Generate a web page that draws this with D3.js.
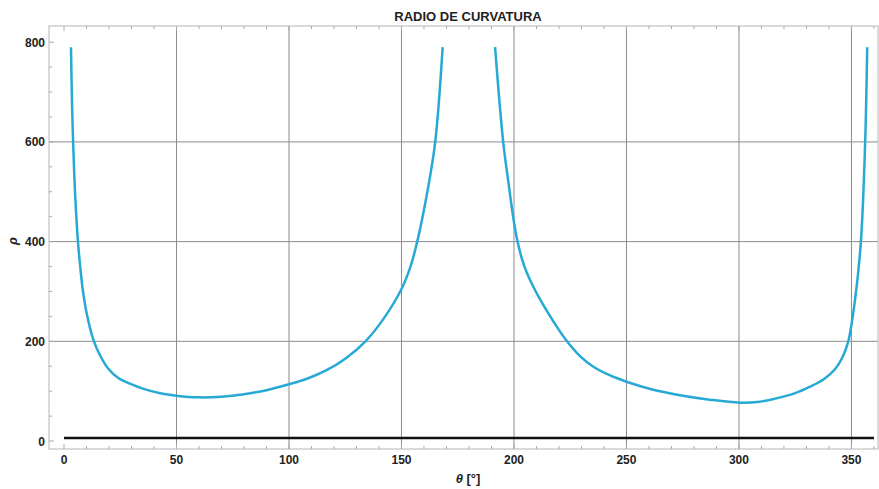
<!DOCTYPE html>
<html>
  <head>
    <meta charset="utf-8">
    <title>Radio de curvatura</title>
    <script src="https://d3js.org/d3.v7.min.js"></script>
    <style>
      body { margin: 0; background: #fff; font-family: "Liberation Sans", Arial, sans-serif; }
      svg text { font-weight: bold; fill: #222; }
    </style>
  </head>
  <body>
    <svg></svg>
    <script>
      // first branch (theta in degrees, rho)
      var thetaA = [3.1, 3.6, 4.2, 5, 6.2, 7.2, 8.3, 10, 13, 16, 19.7, 24, 29.3, 35, 42.7, 50, 60, 70, 80, 90, 100, 108, 116.7, 125, 134, 142, 150, 154, 157, 161.5, 165, 168.3];
      var rhoA   = [790, 670, 580, 490, 400, 350, 305, 258, 204, 172, 145, 127, 115, 105, 96, 91, 87.6, 89, 94, 102, 114, 125, 142, 165, 200, 245, 305, 350, 400, 500, 600, 790];

      // second branch
      var thetaB = [191.6, 195.2, 197.5, 199.3, 200.8, 202, 203.5, 205.5, 208, 211.6, 217.5, 223.4, 229, 235.3, 242, 250, 261.9, 273.8, 287, 300.4, 309.3, 316, 325, 331.6, 337.7, 342.7, 346, 348.6, 351.5, 354.2, 356.1, 357.0];
      var rhoB   = [790, 600, 520, 460, 418, 392, 366, 340, 315, 284, 240, 201, 172, 149, 133, 119, 103, 92, 83, 77, 79, 85, 96, 109, 124, 144, 168, 200, 280, 400, 600, 790];

      // horizontal black reference line
      var baseTheta = [0, 360];
      var baseRho = [6, 6];

      var xTicks = [0, 50, 100, 150, 200, 250, 300, 350];
      var yTicks = [0, 200, 400, 600, 800];

      var W = 879, H = 489;
      var pLeft = 49, pRight = 878, pTop = 26, pBottom = 449;

      var svg = d3.select("svg").attr("width", W).attr("height", H);

      var x = d3.scaleLinear().domain([-6.67, 361.8]).range([pLeft, pRight]);
      var y = d3.scaleLinear().domain([-16, 832.5]).range([pBottom, pTop]);

      // grid lines
      svg.selectAll(".vgrid")
        .data(xTicks.filter(function(d) { return d > 0; }))
        .enter().append("line")
          .attr("x1", function(d) { return x(d); })
          .attr("x2", function(d) { return x(d); })
          .attr("y1", pTop).attr("y2", pBottom)
          .attr("stroke", "#8c8c8c").attr("stroke-width", 1);

      svg.selectAll(".hgrid")
        .data([200, 400, 600])
        .enter().append("line")
          .attr("x1", pLeft).attr("x2", pRight)
          .attr("y1", function(d) { return y(d); })
          .attr("y2", function(d) { return y(d); })
          .attr("stroke", "#8c8c8c").attr("stroke-width", 1);

      // frame
      svg.append("rect")
        .attr("x", pLeft).attr("y", pTop)
        .attr("width", pRight - pLeft).attr("height", pBottom - pTop)
        .attr("fill", "none").attr("stroke", "#b5b5b5").attr("stroke-width", 1);

      // inward ticks (major + minor)
      var xMinor = d3.range(0, 361, 10);
      var yMinor = d3.range(0, 801, 50);
      var tickColor = "#aaa";

      xMinor.forEach(function(t) {
        var len = (t % 50 === 0) ? 5 : 3;
        svg.append("line").attr("x1", x(t)).attr("x2", x(t))
          .attr("y1", pBottom).attr("y2", pBottom - len).attr("stroke", tickColor);
        svg.append("line").attr("x1", x(t)).attr("x2", x(t))
          .attr("y1", pTop).attr("y2", pTop + len).attr("stroke", tickColor);
      });
      yMinor.forEach(function(t) {
        var len = (t % 200 === 0) ? 5 : 3;
        svg.append("line").attr("y1", y(t)).attr("y2", y(t))
          .attr("x1", pLeft).attr("x2", pLeft + len).attr("stroke", tickColor);
      });

      // tick labels
      svg.selectAll(".xlab")
        .data(xTicks)
        .enter().append("text")
          .attr("x", function(d) { return x(d); })
          .attr("y", 464)
          .attr("text-anchor", "middle")
          .attr("font-size", 12)
          .text(function(d) { return d; });

      svg.selectAll(".ylab")
        .data(yTicks)
        .enter().append("text")
          .attr("x", 45)
          .attr("y", function(d) { return y(d) + 4.5; })
          .attr("text-anchor", "end")
          .attr("font-size", 12)
          .text(function(d) { return d; });

      // curves
      var line = d3.line()
        .x(function(d) { return x(d[0]); })
        .y(function(d) { return y(d[1]); })
        .curve(d3.curveCatmullRom.alpha(0.5));

      svg.append("path")
        .datum(d3.zip(baseTheta, baseRho))
        .attr("d", line)
        .attr("fill", "none").attr("stroke", "#111").attr("stroke-width", 2.5);

      [d3.zip(thetaA, rhoA), d3.zip(thetaB, rhoB)].forEach(function(pts) {
        svg.append("path")
          .datum(pts)
          .attr("d", line)
          .attr("fill", "none")
          .attr("stroke", "#27a9d6")
          .attr("stroke-width", 2.5);
      });

      // title and axis labels
      svg.append("text")
        .attr("x", 468).attr("y", 21)
        .attr("text-anchor", "middle")
        .attr("font-size", 13)
        .text("RADIO DE CURVATURA");

      var xl = svg.append("text")
        .attr("x", 468).attr("y", 483)
        .attr("text-anchor", "middle")
        .attr("font-size", 13);
      xl.append("tspan").attr("font-style", "italic").text("θ");
      xl.append("tspan").text(" [°]");

      svg.append("text")
        .attr("transform", "translate(17,241) rotate(-90)")
        .attr("text-anchor", "middle")
        .attr("font-size", 13)
        .attr("font-style", "italic")
        .text("ρ");
    </script>
  </body>
</html>
